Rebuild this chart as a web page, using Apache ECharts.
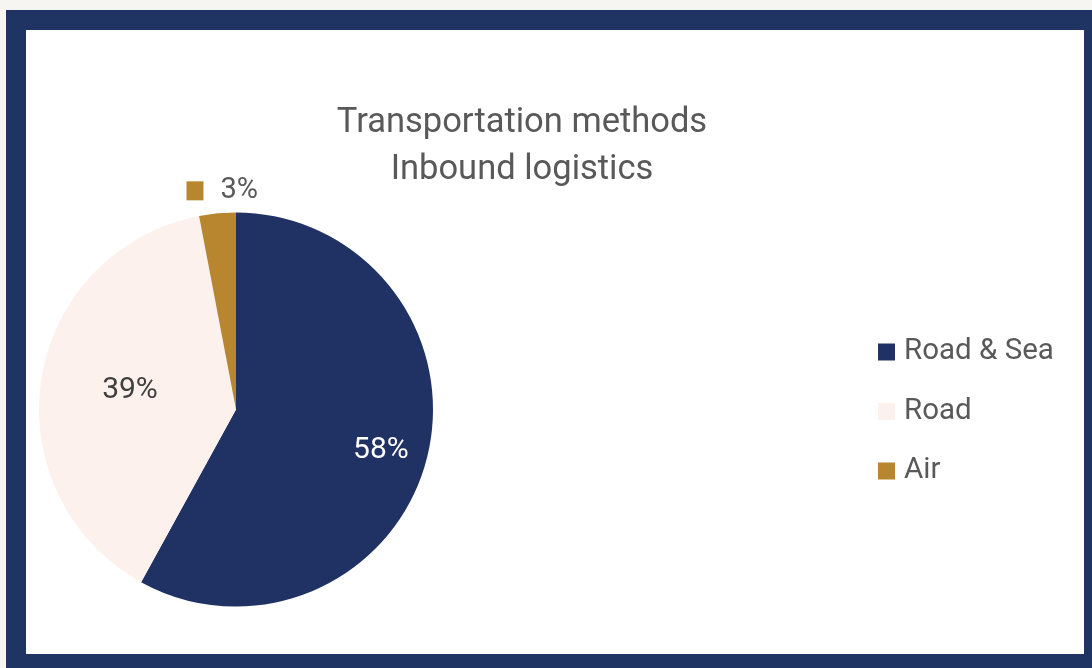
<!DOCTYPE html>
<html>
<head>
<meta charset="utf-8">
<script src="https://cdn.jsdelivr.net/npm/echarts@6/dist/echarts.min.js"></script>
<style>
  html, body { margin: 0; padding: 0; width: 1092px; height: 668px; overflow: hidden; background: #f6f5f2; }
  #frame { position: absolute; left: 6px; top: 10px; border: 20px solid #1f3462; width: 1058px; height: 624px; background: #ffffff; }
  #chart { width: 1058px; height: 624px; }
</style>
</head>
<body>
<div id="frame"><div id="chart"></div></div>
<script>
// Shares of inbound transport by method (percent)
const categories = ['Road & Sea', 'Road', 'Air'];
const shares = [58, 39, 3];
const sliceColors = ['#1f3263', '#fdf1ee', '#b8862e'];
const labelColors = ['#ffffff', '#404040', '#595959'];

// Label placement: radial distance as a fraction of the radius, plus a small nudge
const LABEL_RADIUS = [0.77, 0.55, 1.12];
const LABEL_NUDGE = [[-2, 3], [1, -2], [7, 1]];

const FONT = 'Roboto, "Liberation Sans", sans-serif';
const CX = 210, CY = 379.5, R = 197;

const total = shares.reduce((a, b) => a + b, 0);
const midAngles = [];
let acc = 0;
shares.forEach(v => { midAngles.push((acc + v / 2) / total * 2 * Math.PI); acc += v; });

const chart = echarts.init(document.getElementById('chart'));
chart.setOption({
  animation: false,
  title: {
    text: 'Transportation methods\nInbound logistics',
    left: 491,
    top: 65,
    textAlign: 'center',
    textStyle: { fontFamily: FONT, fontSize: 34.5, fontWeight: 'normal', color: '#595959', lineHeight: 47 }
  },
  legend: {
    orient: 'vertical',
    left: 847,
    top: 302,
    itemWidth: 17,
    itemHeight: 17,
    itemGap: 29.5,
    icon: 'rect',
    data: categories,
    textStyle: { fontFamily: FONT, fontSize: 29.5, lineHeight: 29, color: '#595959', padding: [0, 0, 0, 4] }
  },
  series: [{
    type: 'pie',
    center: [CX, CY],
    radius: R,
    startAngle: 90,
    clockwise: true,
    avoidLabelOverlap: false,
    itemStyle: { borderWidth: 0 },
    emphasis: { disabled: true },
    labelLine: { show: false },
    label: {
      show: true,
      position: 'inside',
      fontFamily: FONT,
      fontSize: 30,
      formatter: p => p.dataIndex === 2 ? '{k|}{v|' + Math.round(p.percent) + '%}' : Math.round(p.percent) + '%',
      rich: {
        k: { backgroundColor: sliceColors[2], width: 17, height: 19 },
        v: { fontFamily: FONT, fontSize: 29, color: labelColors[2], padding: [0, 0, 0, 17] }
      }
    },
    labelLayout: params => {
      const i = params.dataIndex;
      const a = midAngles[i];
      const d = R * LABEL_RADIUS[i];
      return {
        x: CX + Math.sin(a) * d + LABEL_NUDGE[i][0],
        y: CY - Math.cos(a) * d + LABEL_NUDGE[i][1],
        align: 'center',
        verticalAlign: 'middle'
      };
    },
    data: categories.map((name, i) => ({
      name,
      value: shares[i],
      itemStyle: { color: sliceColors[i] },
      label: { color: labelColors[i] }
    }))
  }]
});
</script>
</body>
</html>
